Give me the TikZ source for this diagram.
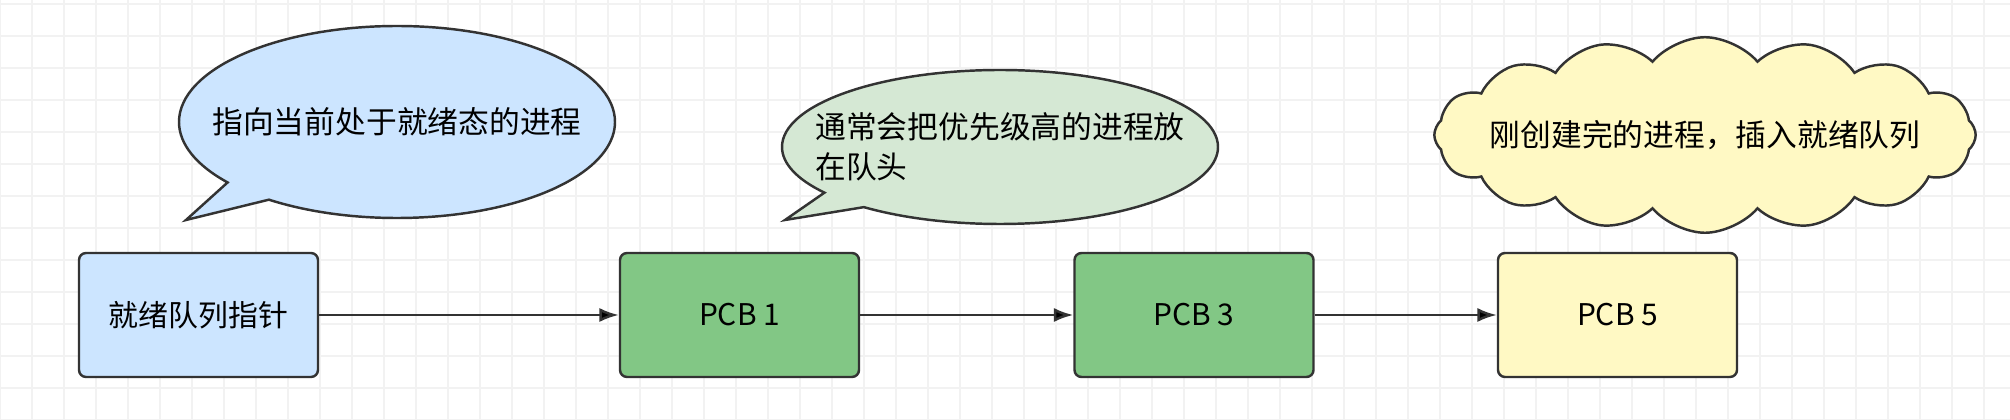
\documentclass[tikz,border=0pt]{standalone}
\usepackage{fontspec}
\setmainfont{Noto Sans CJK SC}
\usetikzlibrary{shapes.callouts,shapes.symbols,arrows.meta}
\definecolor{ptrblue}{HTML}{CCE5FF}
\definecolor{pcbgreen}{HTML}{82C785}
\definecolor{notegreen}{HTML}{D5E8D4}
\definecolor{newyellow}{HTML}{FFF9C4}
\definecolor{gridgray}{HTML}{F2F2F2}
\tikzset{
	pcb/.style={draw=black!80, line width=1.4pt, rounded corners=4pt, minimum width=4.78cm, minimum height=2.48cm, font=\fontsize{17}{21}\selectfont},
	link/.style={-{Latex[length=11pt,width=8pt]}, line width=1.4pt, draw=black!80},
	note/.style={draw=black!80, line width=1.4pt, inner xsep=-0.75cm, inner ysep=0pt, font=\fontsize{17.5}{23}\selectfont, align=left}
}
\begin{document}
\begin{tikzpicture}
	\useasboundingbox (0,0) rectangle (40.2,8.4);
	%% background grid
	\draw[gridgray, line width=0.6pt, step=0.64] (0,0) grid (40.2,8.4);

	%% ready queue
	\node[pcb, fill=ptrblue] (ptr) at (3.97,2.1) {就绪队列指针};
	\node[pcb, fill=pcbgreen] (pcb1) at (14.79,2.1) {PCB 1};
	\node[pcb, fill=pcbgreen] (pcb3) at (23.88,2.1) {PCB 3};
	\node[pcb, fill=newyellow] (pcb5) at (32.35,2.1) {PCB 5};

	\path[link] (ptr) edge (pcb1) (pcb1) edge (pcb3) (pcb3) edge (pcb5);

	%% notes
	\node[note, ellipse callout, fill=ptrblue, minimum width=8.72cm, minimum height=3.84cm,
		callout absolute pointer={(3.72,4.0)}] (headnote) at (7.94,5.96) {指向当前处于就绪态的进程};
	\node[note, ellipse callout, fill=notegreen, minimum width=8.72cm, minimum height=3.08cm,
		callout absolute pointer={(15.7,4.0)}] (prionote) at (20.0,5.46) {通常会把优先级高的进程放\\在队头};
	\node[note, cloud, cloud puffs=16, cloud puff arc=100, aspect=3.6, fill=newyellow,
		inner xsep=-0.5cm, inner ysep=-0.25cm,
		minimum width=9.6cm, minimum height=2.0cm] (newnote) at (34.1,5.7) {刚创建完的进程，插入就绪队列};
\end{tikzpicture}
\end{document}
